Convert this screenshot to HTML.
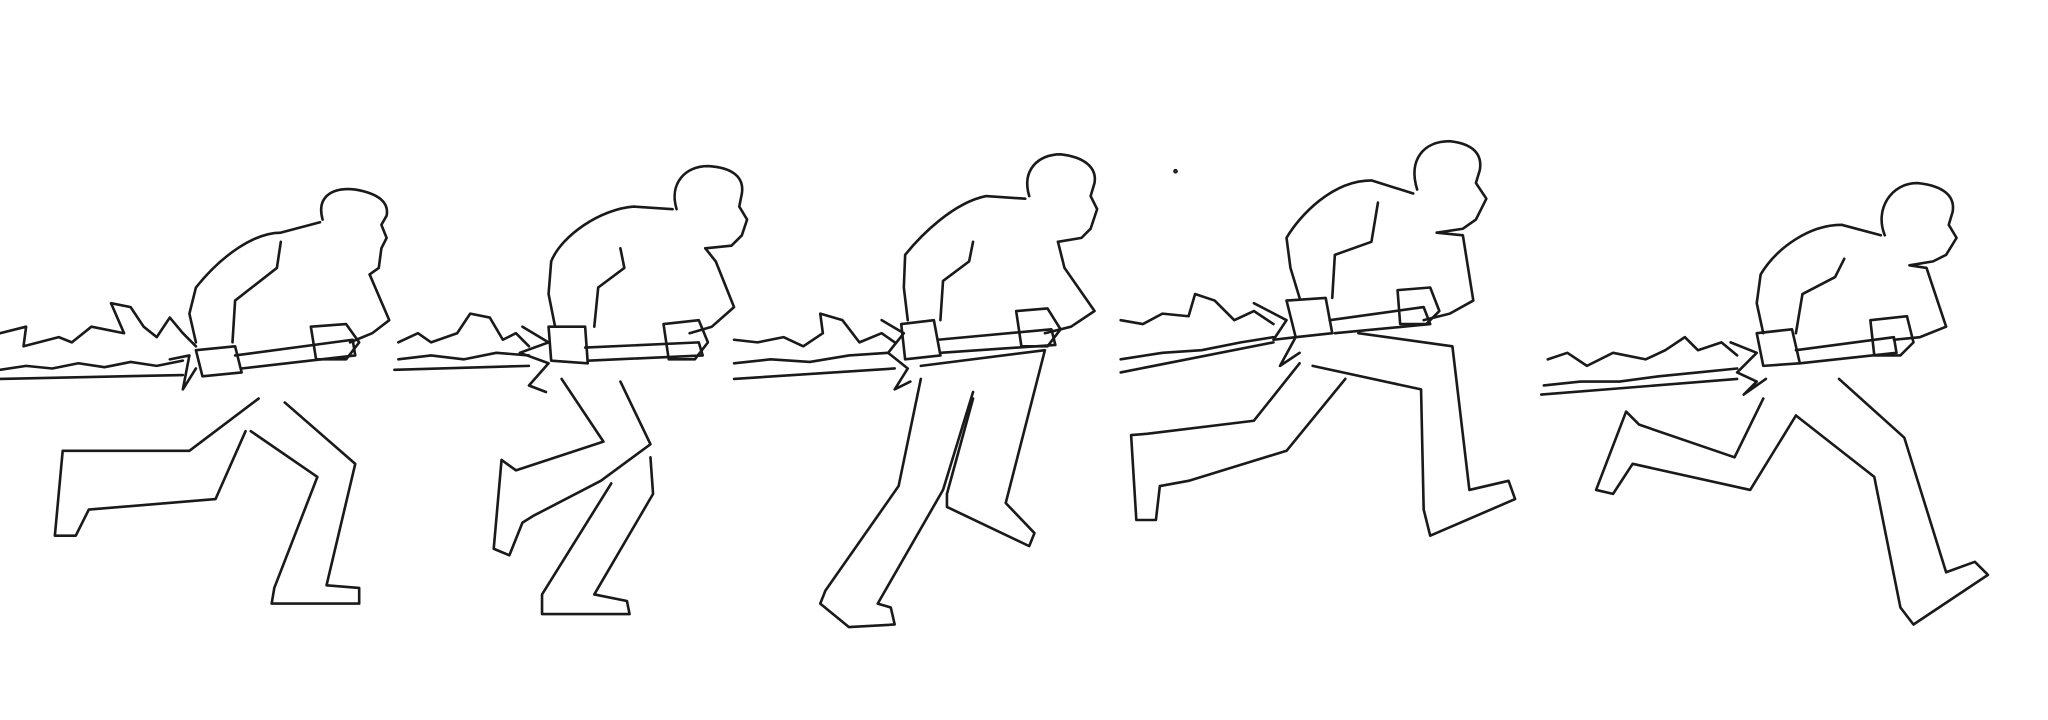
<!DOCTYPE html>
<html><head><meta charset="utf-8"><style>
html,body{margin:0;padding:0;background:#fff;width:2048px;height:720px;overflow:hidden}
svg{display:block}
path,circle{fill:none;stroke:#1a1a1a;stroke-width:2;stroke-linejoin:round;stroke-linecap:round}
</style></head><body>
<svg width="2048" height="720" viewBox="0 0 1568 551">
<g>
<path d="M247,168 C242,150 255,143 272,145 C290,148 298,155 296,165 L292,172 L296,182 L292,190 L290,205 L283,210"/>
<path d="M245,170 L215,178 C195,178 170,195 150,220 L145,240 L150,262"/>
<path d="M283,210 L298,245 L285,255 L268,262"/>
<path d="M215,185 L212,205 L180,230 L178,262"/>
<path d="M0,255 L20,250 L18,265 L45,258 L55,262 L70,250 L95,255 L85,232 L100,235 L110,250 L120,258 L130,243 L140,255 L150,265"/>
<path d="M0,283 L20,280 L40,282 L60,278 L80,281 L100,277 L120,280 L140,276"/>
<path d="M0,290 L140,287"/>
<path d="M130,275 L145,272 L140,298 L150,282"/>
<path d="M150,268 L180,265 L185,285 L155,288 Z"/>
<path d="M180,272 L270,260 L272,272 L185,282"/>
<path d="M238,250 L265,248 L275,262 L265,275 L242,275 Z"/>
<path d="M198,305 L145,345 L60,345 L48,345 L42,410 L58,410 L68,390 L165,382 L188,330"/>
<path d="M192,330 L243,365 L210,450 L208,462 L275,462 L275,450 L250,448 L272,355 L218,308"/>
</g>
<g>
<path d="M518,160 C512,140 525,127 542,127 C560,128 570,135 568,148 L566,158 L572,168 L568,180 L560,188 L540,190"/>
<path d="M515,160 L485,158 C460,160 430,180 422,200 L420,225 L425,250"/>
<path d="M540,190 L548,200 L562,235 L545,250 L528,255"/>
<path d="M475,190 L478,205 L458,220 L455,250"/>
<path d="M305,262 L320,255 L330,262 L350,255 L360,240 L375,243 L385,260 L395,255 L405,265"/>
<path d="M305,275 L330,272 L355,275 L380,270 L405,272"/>
<path d="M302,283 L405,280"/>
<path d="M400,250 L420,262 L398,270 L420,278 L405,295 L418,300"/>
<path d="M420,250 L448,250 L450,278 L422,276 Z"/>
<path d="M448,266 L535,262 L538,272 L450,276"/>
<path d="M508,248 L535,245 L542,262 L532,275 L512,275 Z"/>
<path d="M430,290 L462,338 L395,360 L384,352 L378,420 L390,425 L400,400 L408,395 L460,368 L498,340 L475,292"/>
<path d="M468,370 L415,455 L415,470 L482,470 L480,460 L455,455 L500,378 L498,350"/>
</g>
<g>
<path d="M788,150 C782,130 795,118 812,118 C830,120 840,128 838,140 L835,150 L840,160 L835,175 L828,182 L810,185"/>
<path d="M785,152 L755,150 C730,155 705,180 693,195 L692,220 L695,245"/>
<path d="M810,185 L815,205 L838,238 L820,250 L800,255"/>
<path d="M745,185 L742,200 L722,215 L720,245"/>
<path d="M562,260 L580,262 L600,258 L615,265 L630,255 L628,240 L645,245 L658,262 L675,255 L685,262"/>
<path d="M562,278 L590,275 L620,277 L650,272 L680,270"/>
<path d="M562,290 L685,282"/>
<path d="M675,245 L692,255 L680,270 L695,282 L685,298 L697,292"/>
<path d="M690,248 L715,245 L720,272 L693,275 Z"/>
<path d="M718,260 L805,252 L808,264 L720,270"/>
<path d="M778,238 L802,236 L812,252 L802,265 L782,265 Z"/>
<path d="M705,290 L688,372 L632,452 L628,462 L650,480 L685,478 L682,465 L672,462 L722,375 L745,300"/>
<path d="M745,305 L725,378 L725,388 L788,418 L792,408 L770,385 L800,268 L705,280"/>
</g>
<g>
<path d="M1085,145 C1078,122 1090,108 1110,108 C1128,110 1135,118 1133,130 L1130,140 L1138,152 L1130,168 L1120,175 L1100,178"/>
<path d="M1082,148 L1050,138 C1020,138 995,165 985,182 L988,205 L995,228"/>
<path d="M1100,178 L1120,180 L1128,230 L1110,240 L1090,245"/>
<path d="M1055,155 L1050,185 L1022,195 L1020,228"/>
<path d="M858,245 L875,248 L890,240 L910,242 L915,225 L930,230 L945,245 L960,238 L975,248"/>
<path d="M858,275 L890,270 L920,268 L950,262 L975,258"/>
<path d="M858,285 L975,262"/>
<path d="M960,232 L985,245 L975,260 L992,258 L980,280 L995,270"/>
<path d="M985,230 L1015,228 L1020,255 L992,258 Z"/>
<path d="M1018,245 L1090,235 L1095,248 L1022,255"/>
<path d="M1070,222 L1095,220 L1102,238 L1092,248 L1072,248 Z"/>
<path d="M995,278 L960,322 L878,332 L866,333 L870,398 L885,398 L888,372 L910,368 L985,345 L1030,290"/>
<path d="M1005,280 L1088,298 L1090,390 L1095,410 L1160,382 L1155,368 L1125,375 L1112,265 L1040,255"/>
</g>
<g>
<path d="M1443,180 C1435,160 1448,140 1468,140 C1488,142 1497,150 1495,162 L1492,172 L1498,182 L1490,195 L1480,200 L1462,203"/>
<path d="M1440,180 L1410,172 C1385,172 1360,190 1348,210 L1345,232 L1350,255"/>
<path d="M1462,203 L1475,205 L1490,250 L1470,258 L1450,260"/>
<path d="M1412,198 L1405,212 L1380,225 L1375,255"/>
<path d="M1185,275 L1200,270 L1215,280 L1235,270 L1260,275 L1275,268 L1290,258 L1300,268 L1318,262 L1330,272"/>
<path d="M1182,295 L1210,292 L1240,292 L1270,288 L1300,285 L1330,282"/>
<path d="M1180,302 L1330,290"/>
<path d="M1325,262 L1345,270 L1330,285 L1345,292 L1335,302 L1352,290"/>
<path d="M1345,255 L1372,252 L1378,278 L1350,280 Z"/>
<path d="M1375,268 L1450,258 L1452,270 L1378,278"/>
<path d="M1432,245 L1460,242 L1465,262 L1455,272 L1435,272 Z"/>
<path d="M1350,305 L1328,350 L1255,325 L1245,315 L1222,375 L1235,378 L1250,355 L1340,375 L1375,318"/>
<path d="M1375,318 L1435,365 L1455,465 L1465,478 L1522,440 L1512,430 L1490,438 L1458,335 L1408,290"/>
</g>
<circle cx="900" cy="131" r="0.8"/>
</svg>
</body></html>
